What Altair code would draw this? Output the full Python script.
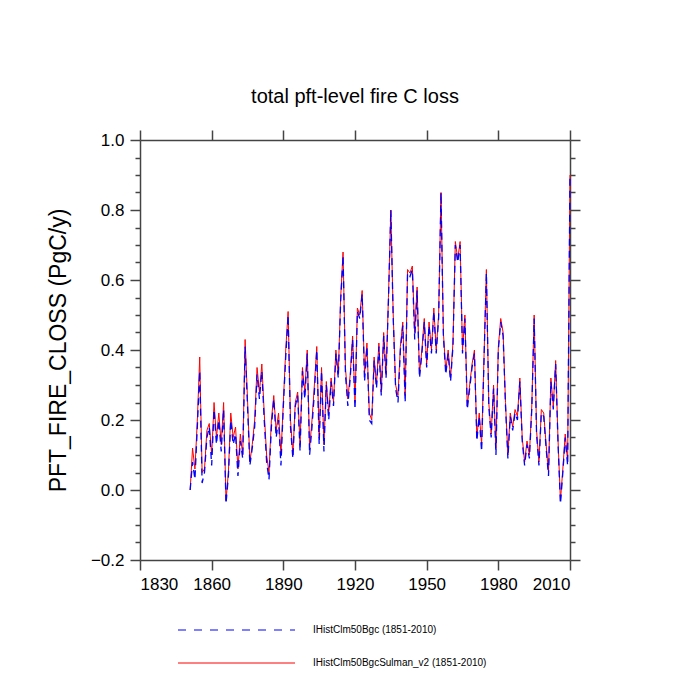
import pandas as pd
import altair as alt

years = list(range(1851, 2011))

# IHistClm50BgcSulman_v2 (red)
sulman = [0.00, 0.12, 0.06, 0.20, 0.38, 0.05, 0.06, 0.17, 0.19, 0.10,
          0.25, 0.15, 0.22, 0.13, 0.25, -0.03, 0.05, 0.22, 0.15, 0.18,
          0.06, 0.16, 0.10, 0.43, 0.26, 0.08, 0.13, 0.20, 0.35, 0.28,
          0.36, 0.22, 0.10, 0.05, 0.20, 0.27, 0.17, 0.22, 0.10, 0.25,
          0.40, 0.51, 0.20, 0.10, 0.25, 0.28, 0.13, 0.35, 0.28, 0.40,
          0.12, 0.20, 0.30, 0.41, 0.15, 0.35, 0.13, 0.31, 0.22, 0.32,
          0.25, 0.40, 0.33, 0.55, 0.68, 0.35, 0.26, 0.33, 0.44, 0.25,
          0.52, 0.50, 0.57, 0.33, 0.42, 0.22, 0.20, 0.38, 0.30, 0.42,
          0.28, 0.45, 0.33, 0.55, 0.80, 0.50, 0.30, 0.27, 0.41, 0.48,
          0.27, 0.63, 0.62, 0.64, 0.45, 0.58, 0.33, 0.40, 0.49, 0.36,
          0.48, 0.40, 0.52, 0.40, 0.50, 0.85, 0.45, 0.34, 0.40, 0.32,
          0.42, 0.71, 0.66, 0.71, 0.40, 0.50, 0.24, 0.30, 0.36, 0.40,
          0.15, 0.22, 0.13, 0.38, 0.63, 0.25, 0.16, 0.30, 0.12, 0.41,
          0.49, 0.45, 0.25, 0.10, 0.22, 0.18, 0.23, 0.21, 0.32, 0.15,
          0.08, 0.14, 0.10, 0.24, 0.50, 0.17, 0.08, 0.23, 0.22, 0.13,
          0.05, 0.32, 0.24, 0.37, 0.14, -0.03, 0.06, 0.16, 0.08, 0.90]

# IHistClm50Bgc (blue dashed)
bgc = [0.00, 0.08, 0.03, 0.18, 0.34, 0.02, 0.05, 0.15, 0.18, 0.07,
       0.23, 0.13, 0.20, 0.11, 0.23, -0.04, 0.04, 0.20, 0.13, 0.16,
       0.04, 0.14, 0.09, 0.41, 0.24, 0.07, 0.12, 0.18, 0.33, 0.26,
       0.34, 0.20, 0.08, 0.03, 0.18, 0.26, 0.15, 0.20, 0.07, 0.24,
       0.38, 0.50, 0.18, 0.09, 0.24, 0.27, 0.11, 0.34, 0.26, 0.39,
       0.10, 0.18, 0.28, 0.40, 0.13, 0.34, 0.11, 0.30, 0.20, 0.31,
       0.24, 0.39, 0.32, 0.54, 0.67, 0.33, 0.24, 0.32, 0.43, 0.23,
       0.51, 0.49, 0.56, 0.31, 0.41, 0.20, 0.19, 0.37, 0.29, 0.41,
       0.27, 0.44, 0.32, 0.54, 0.80, 0.49, 0.29, 0.25, 0.40, 0.47,
       0.25, 0.62, 0.61, 0.63, 0.43, 0.57, 0.32, 0.39, 0.48, 0.35,
       0.47, 0.39, 0.51, 0.39, 0.49, 0.85, 0.44, 0.33, 0.39, 0.31,
       0.41, 0.70, 0.65, 0.70, 0.39, 0.49, 0.23, 0.29, 0.35, 0.39,
       0.14, 0.21, 0.11, 0.37, 0.62, 0.24, 0.15, 0.29, 0.10, 0.40,
       0.48, 0.44, 0.24, 0.09, 0.21, 0.17, 0.22, 0.20, 0.31, 0.14,
       0.07, 0.13, 0.09, 0.23, 0.49, 0.16, 0.07, 0.22, 0.21, 0.12,
       0.04, 0.31, 0.23, 0.36, 0.13, -0.04, 0.05, 0.15, 0.07, 0.90]

x_ticks = [1830, 1860, 1890, 1920, 1950, 1980, 2010]
y_minor = [round(-0.2 + 0.05 * i, 2) for i in range(25)]

df = pd.DataFrame({'year': years, 'sulman': sulman, 'bgc': bgc})

font = 'Liberation Sans'
xs = alt.Scale(domain=[1830, 2010], nice=False)
ys = alt.Scale(domain=[-0.2, 1.0], nice=False)
major_test = 'abs(datum.value*5 - round(datum.value*5)) < 0.001'

x_axis = alt.Axis(values=x_ticks, format='d', title=None, grid=False, tickSize=10,
                  labelFontSize=17, labelFont=font, labelPadding=6, domainColor='#444',
                  tickColor='#444', labelColor='black')
y_axis = alt.Axis(values=y_minor, title='PFT_FIRE_CLOSS  (PgC/y)', grid=False,
                  labelExpr=f"{major_test} ? format(datum.value, '.1f') : ''",
                  tickSize={'condition': {'test': major_test, 'value': 10}, 'value': 5},
                  labelFontSize=17, labelFont=font, labelPadding=6, titleFontSize=23,
                  titleFont=font, titleFontWeight='normal', titlePadding=20,
                  domainColor='#444', tickColor='#444', labelColor='black')
x_top = alt.Axis(values=x_ticks, orient='top', labels=False, title=None, grid=False,
                 tickSize=10, domainColor='#444', tickColor='#444')
y_right = alt.Axis(values=y_minor, orient='right', labels=False, title=None, grid=False,
                   tickSize={'condition': {'test': major_test, 'value': 10}, 'value': 5},
                   domainColor='#444', tickColor='#444')

base = alt.Chart(df)
red = base.mark_line(color='red', strokeWidth=1).encode(
    x=alt.X('year:Q', scale=xs, axis=x_axis),
    y=alt.Y('sulman:Q', scale=ys, axis=y_axis))
blue = base.mark_line(color='blue', strokeWidth=1.3, strokeDash=[7, 5]).encode(
    x=alt.X('year:Q', scale=xs, axis=x_top),
    y=alt.Y('bgc:Q', scale=ys, axis=y_right))

# legend below the plot
leg = pd.DataFrame({'name': ['IHistClm50Bgc (1851-2010)', 'IHistClm50BgcSulman_v2 (1851-2010)'],
                    'ypos': [490, 523]})
leg_dash = alt.Chart(leg.iloc[[0]]).mark_rule(color='blue', strokeDash=[8, 8], strokeWidth=1).encode(
    x=alt.value(38), x2=alt.value(155), y=alt.Y('ypos:Q', scale=None))
leg_solid = alt.Chart(leg.iloc[[1]]).mark_rule(color='red', strokeWidth=1).encode(
    x=alt.value(38), x2=alt.value(155), y=alt.Y('ypos:Q', scale=None))
leg_text = alt.Chart(leg).mark_text(align='left', baseline='middle', fontSize=10, font=font).encode(
    x=alt.value(173), y=alt.Y('ypos:Q', scale=None), text='name:N')

chart = alt.layer(red, blue).resolve_scale(x='independent', y='independent')
chart = alt.layer(chart, leg_dash, leg_solid, leg_text).properties(
    width=430, height=420,
    title=alt.TitleParams('total pft-level fire C loss', fontSize=20, font=font,
                          fontWeight='normal', offset=22),
    autosize=alt.AutoSizeParams(type='none'),
    padding={'left': 132, 'top': 132, 'right': 120, 'bottom': 130}
).configure_view(stroke=None).configure_axis(domainWidth=1.5, tickWidth=1.5)

chart.save("out.html", embed_options={"renderer": "svg", "actions": False})
